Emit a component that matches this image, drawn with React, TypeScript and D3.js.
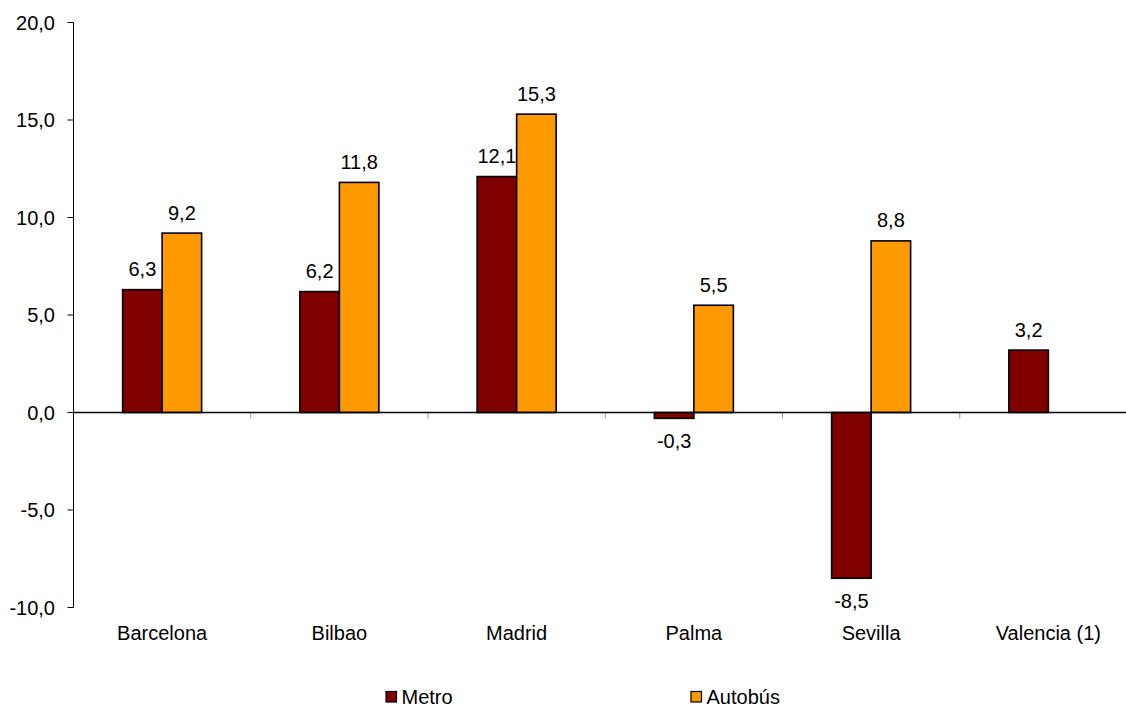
import React from "react";
import * as d3 from "d3";

const categories = ["Barcelona", "Bilbao", "Madrid", "Palma", "Sevilla", "Valencia (1)"];
const seriesNames = ["Metro", "Autobús"];
const metro = [6.3, 6.2, 12.1, -0.3, -8.5, 3.2];
const autobus: (number | null)[] = [9.2, 11.8, 15.3, 5.5, 8.8, null];
const yTicks = [20, 15, 10, 5, 0, -5, -10];
const colors = ["#800000", "#FF9900"];

const W = 1126;
const H = 707;
const FONT = "'Liberation Sans', Arial, sans-serif";
const FS = 20;

export default function App() {
  const axisX = 73.5;
  const step = 177.25;
  const x = d3
    .scaleBand<string>()
    .domain(categories)
    .range([axisX, axisX + step * categories.length])
    .paddingInner(0)
    .paddingOuter(0);
  const groupW = 79;
  const inner = d3
    .scaleBand<string>()
    .domain(seriesNames)
    .range([(x.bandwidth() - groupW) / 2, (x.bandwidth() + groupW) / 2]);
  const y = d3.scaleLinear().domain([-10, 20]).range([607.5, 22.5]);
  const fmt = (v: number) => d3.format(".1f")(v).replace(".", ",").replace("−", "-");

  const series = [metro, autobus];

  return (
    <svg
      width={W}
      height={H}
      style={{ position: "absolute", left: 0, top: 0, background: "#fff" }}
      fontFamily={FONT}
    >
      {/* y axis */}
      <line x1={axisX} x2={axisX} y1={y(20)} y2={y(-10)} stroke="#000" strokeWidth={1} />
      {yTicks.map((t) => (
        <g key={t}>
          <line x1={axisX - 6} x2={axisX} y1={y(t)} y2={y(t)} stroke="#000" strokeWidth={1} />
          <text
            x={55}
            y={y(t)}
            dy="0.35em"
            textAnchor="end"
            fontSize={FS}
            fill="#000"
          >
            {fmt(t)}
          </text>
        </g>
      ))}

      {/* category tick marks */}
      {categories.map((c, i) =>
        i > 0 ? (
          <line
            key={"tk" + c}
            x1={x(c)!}
            x2={x(c)!}
            y1={y(0)}
            y2={y(0) + 6}
            stroke="#999"
            strokeWidth={1}
          />
        ) : null
      )}

      {/* bars */}
      {series.map((vals, si) =>
        vals.map((v, ci) => {
          if (v === null || v === undefined) return null;
          const c = categories[ci];
          const bx = x(c)! + inner(seriesNames[si])!;
          const bw = inner.bandwidth();
          const top = y(Math.max(0, v));
          const bot = y(Math.min(0, v));
          return (
            <rect
              key={si + "-" + ci}
              x={bx}
              y={top}
              width={bw}
              height={bot - top}
              fill={colors[si]}
              stroke="#000"
              strokeWidth={1.6}
            />
          );
        })
      )}

      {/* zero line */}
      <line x1={axisX} x2={W} y1={y(0)} y2={y(0)} stroke="#000" strokeWidth={1.4} />

      {/* value labels */}
      {series.map((vals, si) =>
        vals.map((v, ci) => {
          if (v === null || v === undefined) return null;
          const c = categories[ci];
          const cx = x(c)! + inner(seriesNames[si])! + inner.bandwidth() / 2;
          const ly = v >= 0 ? y(v) - 13.5 : y(v) + 30;
          return (
            <text
              key={"l" + si + "-" + ci}
              x={cx}
              y={ly}
              textAnchor="middle"
              fontSize={FS}
              fill="#000"
            >
              {fmt(v)}
            </text>
          );
        })
      )}

      {/* category labels */}
      {categories.map((c) => (
        <text
          key={"c" + c}
          x={x(c)! + x.bandwidth() / 2}
          y={640}
          textAnchor="middle"
          fontSize={FS}
          fill="#000"
        >
          {c}
        </text>
      ))}

      {/* legend */}
      {seriesNames.map((s, i) => {
        const lx = [386, 691][i];
        return (
          <g key={"lg" + s}>
            <rect x={lx} y={691.5} width={10.5} height={10.5} fill={colors[i]} stroke="#000" strokeWidth={1.2} />
            <text x={lx + 15.5} y={703.5} fontSize={FS} fill="#000">
              {s}
            </text>
          </g>
        );
      })}
    </svg>
  );
}
